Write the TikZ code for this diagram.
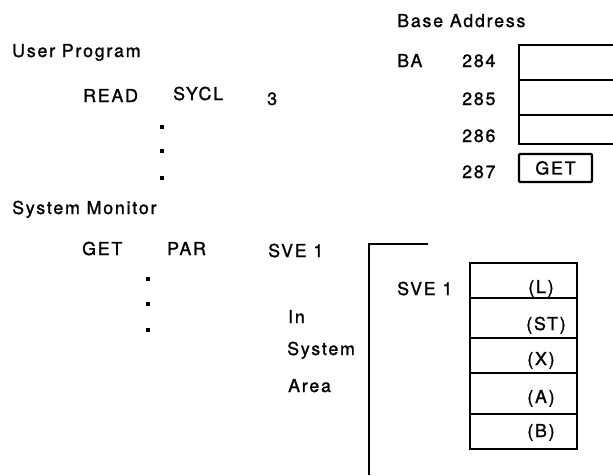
\documentclass[tikz,border=0pt]{standalone}
\usepackage{fontspec}
\setmainfont{TeX Gyre Heros}[LetterSpace=10, FakeBold=1.3]
\usepackage{tikz}
\usetikzlibrary{positioning}

\begin{document}
\begin{tikzpicture}[
  x=1pt, y=-1pt,
  every node/.style={font=\fontsize{17.8}{21}\selectfont, inner sep=0pt},
  lbl/.style={anchor=base west},
  val/.style={anchor=base},
  dot/.style={fill, minimum size=3.6pt, inner sep=0pt},
  wall/.style={line width=2.8pt},
  cell/.style={line width=2.3pt}
]
\useasboundingbox (0,0) rectangle (613,475);

% user program
\node[lbl] (user) at (12,57) {User Program};
\node[lbl] (read) at (83,102) {READ};
\node[lbl] (sycl) at (173,100) {SYCL};
\node[lbl] (three) at (267,105) {3};
\node[dot] (ud1) at (162,127) {};
\node[dot, below=20pt of ud1] (ud2) {};
\node[dot, below=23pt of ud2] (ud3) {};

% system monitor
\node[lbl] (sysmon) at (12,214) {System Monitor};
\node[lbl] (get) at (82,255) {GET};
\node[lbl] (par) at (167,255) {PAR};
\node[lbl] (sve) at (268,257) {SVE 1};
\node[dot] (sd1) at (148,279) {};
\node[dot, below=21pt of sd1] (sd2) {};
\node[dot, below=22pt of sd2] (sd3) {};
\node[lbl] (in) at (288,323) {In};
\node[lbl] (system) at (287,355) {System};
\node[lbl] (area) at (288,392) {Area};

% base address table
\node[lbl] (base) at (397,27) {Base Address};
\node[lbl] (ba) at (397,67) {BA};
\node[lbl] (a284) at (462,67) {284};
\node[lbl] (a285) at (462,105) {285};
\node[lbl] (a286) at (462,142) {286};
\node[lbl] (a287) at (462,178) {287};
\draw[cell] (613,45) -| (519,144) -- (613,144);
\draw[cell] (519,80) -- (613,80);
\draw[cell] (519,115) -- (613,115);
\node[draw, cell, minimum width=73pt, minimum height=28pt, rounded corners=1pt]
  (getcell) at (555.5,168) {GET};

% system area
\coordinate (bt) at (428,244);
\coordinate (bc) at (369,244);
\coordinate (bb) at (369,475);
\draw[wall] (bt) -- (bc) -- (bb);
\node[lbl] (svelbl) at (397,295) {SVE 1};
\draw[cell] (470,263) rectangle (577,449);
\foreach \y in {298,338,373,414}
  \draw[cell] (470,\y) -- (577,\y);
\node[val] (cL) at (541,293) {(L)};
\node[val] (cST) at (546,330) {(ST)};
\node[val] (cX) at (541,365) {(X)};
\node[val] (cA) at (541,403) {(A)};
\node[val] (cB) at (541,437) {(B)};

\end{tikzpicture}
\end{document}
